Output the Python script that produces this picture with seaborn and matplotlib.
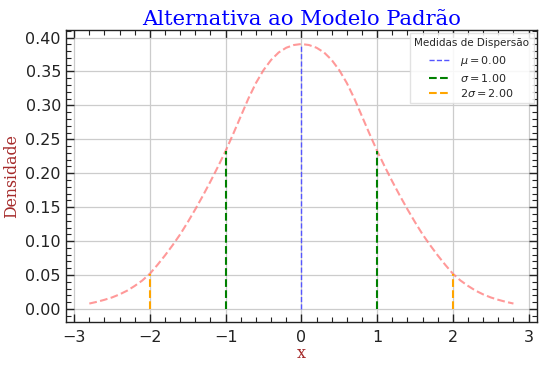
import numpy as np
import pandas as pd
import matplotlib
matplotlib.use("Agg")
import matplotlib.pyplot as plt
from matplotlib.ticker import MultipleLocator, FormatStrFormatter
import seaborn as sns

# curva de densidade (metade direita; a curva é simétrica)
x_half = [0.0, 0.1, 0.2, 0.3, 0.4, 0.5, 0.6, 0.7, 0.8, 0.9, 1.0, 1.1, 1.2, 1.3, 1.4,
          1.5, 1.6, 1.7, 1.8, 1.9, 2.0, 2.1, 2.2, 2.3, 2.4, 2.5, 2.6, 2.7, 2.8]
dens_half = [0.3905, 0.3890, 0.3850, 0.3780, 0.3670, 0.3520, 0.3330, 0.3100, 0.2840, 0.2580,
             0.2330, 0.2100, 0.1880, 0.1670, 0.1470, 0.1280, 0.1100, 0.0940, 0.0790, 0.0650,
             0.0520, 0.0420, 0.0340, 0.0270, 0.0215, 0.0170, 0.0135, 0.0105, 0.0080]

# medidas de dispersão
mu = 0.00
sigma = 1.00
mu_height = 0.3905
sigma_x = [-1.0, 1.0]
sigma_height = [0.2330, 0.2330]
two_sigma_x = [-2.0, 2.0]
two_sigma_height = [0.0520, 0.0520]

x_vals = [-v for v in x_half[:0:-1]] + x_half
dens_vals = dens_half[:0:-1] + dens_half
df = pd.DataFrame({"x": x_vals, "densidade": dens_vals})

sns.set_theme(style="ticks")
plt.rcParams['font.family'] = ['DejaVu Sans']

fig = plt.figure(figsize=(5.44, 3.67), dpi=100)
ax = fig.add_axes([0.121, 0.123, 0.866, 0.795])

sns.lineplot(data=df, x="x", y="densidade", ax=ax, color="#ff8080", alpha=0.8,
             linestyle="--", linewidth=1.5, sort=False)

ax.vlines(mu, 0, mu_height, colors="#5555ff", linestyles="--", linewidth=1.0,
          label=rf"$\mu = {mu:.2f}$")
ax.vlines(sigma_x, 0, sigma_height, colors="green", linestyles="--", linewidth=1.5,
          label=rf"$\sigma = {sigma:.2f}$")
ax.vlines(two_sigma_x, 0, two_sigma_height, colors="orange", linestyles="--", linewidth=1.5,
          label=rf"$2\sigma = {2 * sigma:.2f}$")

ax.set_xlim(-3.11, 3.11)
ax.set_ylim(-0.019, 0.411)
ax.xaxis.set_major_locator(MultipleLocator(1))
ax.xaxis.set_minor_locator(MultipleLocator(0.2))
ax.yaxis.set_major_locator(MultipleLocator(0.05))
ax.yaxis.set_minor_locator(MultipleLocator(0.01))
ax.yaxis.set_major_formatter(FormatStrFormatter("%.2f"))

ax.tick_params(which="both", direction="in", top=True, right=True, colors="#222222")
ax.tick_params(which="major", length=6, width=1, labelsize=11.5)
ax.tick_params(which="minor", length=3.5, width=0.8)
ax.tick_params(axis="x", which="major", pad=6)
for s in ax.spines.values():
    s.set_color("#222222")
    s.set_linewidth(1.0)

ax.grid(True, which="major", color="#cccccc", linewidth=0.9)

ax.set_title("Alternativa ao Modelo Padrão", family="DejaVu Serif", color="blue", fontsize=15.2, pad=4)
ax.set_xlabel("x", family="DejaVu Serif", color="brown", fontsize=11.5, labelpad=0)
ax.set_ylabel("Densidade", family="DejaVu Serif", color="brown", fontsize=11.3)

leg = ax.legend(title="Medidas de Dispersão", loc="upper right", fontsize=8, title_fontsize=7.5,
                framealpha=0.85, edgecolor="#dddddd", fancybox=False, borderaxespad=0.3,
                labelspacing=0.3)
leg._legend_box.sep = 4.6  # espaço entre o título e as entradas

fig.savefig("out.png", dpi=100)
